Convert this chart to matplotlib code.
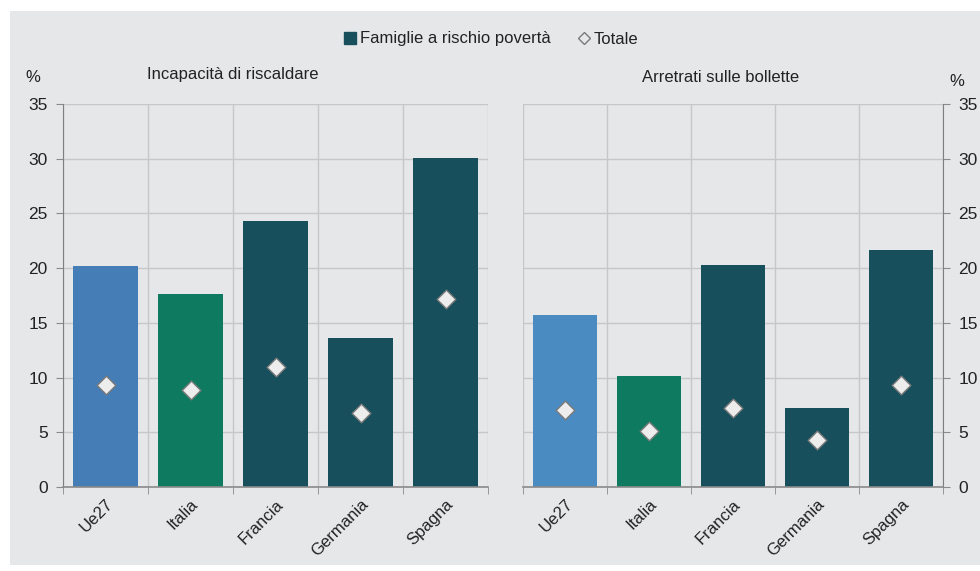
import numpy as np
import matplotlib.pyplot as plt
from matplotlib.patches import Rectangle
from matplotlib.lines import Line2D

plt.rcParams['font.family'] = ['Liberation Sans', 'DejaVu Sans']

paesi = ['Ue27', 'Italia', 'Francia', 'Germania', 'Spagna']
# Incapacità di riscaldare
risc_poverta = [20.2, 17.6, 24.3, 13.6, 30.1]
risc_totale = [9.3, 8.9, 11.0, 6.8, 17.2]
# Arretrati sulle bollette
bol_poverta = [15.7, 10.1, 20.3, 7.2, 21.7]
bol_totale = [7.0, 5.1, 7.2, 4.3, 9.3]

bg = '#E6E7E9'
grid_c = '#C6C7C9'
col_left = ['#457DB6', '#0E7A60', '#17505C', '#17505C', '#17505C']
col_right = ['#4A8BC2', '#0E7A60', '#17505C', '#17505C', '#17505C']
fs = 12

fig = plt.figure(figsize=(9.8, 5.71), dpi=100)
fig.patch.set_facecolor('white')
fig.patches.append(Rectangle((10 / 980, 1 - 565 / 571), 970 / 980, 554 / 571,
                             transform=fig.transFigure, facecolor=bg,
                             edgecolor='none', zorder=-5))

axL = fig.add_axes([63 / 980, 1 - 487 / 571, 425 / 980, 383 / 571])
axR = fig.add_axes([523 / 980, 1 - 487 / 571, 420 / 980, 383 / 571])


def draw(ax, vals, tot, colors, side):
    x = np.arange(len(paesi))
    ax.set_facecolor(bg)
    ax.bar(x, vals, width=0.76, color=colors, zorder=2)
    ax.scatter(x, tot, marker='D', s=90, facecolor='#EDEDED',
               edgecolor='#7A7A7A', linewidth=1, zorder=3)
    ax.set_xlim(-0.5, len(paesi) - 0.5)
    ax.set_ylim(0, 35)
    ax.set_yticks(range(0, 36, 5))
    ax.set_xticks(x)
    ax.set_xticklabels(paesi, rotation=45, ha='right', rotation_mode='anchor',
                       fontsize=fs, color='#222222')
    ax.tick_params(axis='x', length=0, pad=7)
    ax.set_xticks(np.arange(-0.5, len(paesi)), minor=True)
    ax.tick_params(axis='x', which='minor', length=5, color='#8A8A8A')
    ax.grid(True, which='minor', axis='x', color=grid_c, linewidth=1, zorder=0)
    ax.grid(True, which='major', axis='y', color=grid_c, linewidth=1, zorder=0)
    ax.set_axisbelow(True)
    ax.tick_params(axis='y', labelsize=12.5, colors='#222222', length=5,
                   color='#8A8A8A', pad=6)
    for s in ['top', 'left', 'right']:
        ax.spines[s].set_visible(False)
    ax.spines['bottom'].set_color('#8A8A8A')
    ax.spines['bottom'].set_linewidth(1.2)
    if side == 'right':
        ax.yaxis.tick_right()
        ax.spines['right'].set_visible(True)
        ax.spines['right'].set_color('#7F7F7F')
    else:
        ax.spines['left'].set_visible(True)
        ax.spines['left'].set_color('#7F7F7F')


draw(axL, risc_poverta, risc_totale, col_left, 'left')
draw(axR, bol_poverta, bol_totale, col_right, 'right')

fig.text(233 / 980, 1 - 75 / 571, 'Incapacità di riscaldare', ha='center',
         va='center', fontsize=fs, color='#222222')
fig.text(721 / 980, 1 - 77 / 571, 'Arretrati sulle bollette', ha='center',
         va='center', fontsize=fs, color='#222222')
fig.text(33 / 980, 1 - 77 / 571, '%', ha='center', va='center',
         fontsize=fs, color='#222222')
fig.text(957 / 980, 1 - 82 / 571, '%', ha='center', va='center',
         fontsize=fs, color='#222222')

handles = [
    Line2D([], [], marker='s', linestyle='none', markersize=8,
           markerfacecolor='#17505C', markeredgecolor='#17505C'),
    Line2D([], [], marker='D', linestyle='none', markersize=6,
           markerfacecolor=bg, markeredgecolor='#7A7A7A'),
]
fig.legend(handles, ['Famiglie a rischio povertà', 'Totale'],
           loc='center', bbox_to_anchor=(490 / 980, 1 - 39 / 571), ncol=2,
           frameon=False, fontsize=fs, handletextpad=0.1, columnspacing=1.5,
           handlelength=1.0, labelcolor='#222222')

fig.savefig('out.png', dpi=100, facecolor=fig.get_facecolor())
